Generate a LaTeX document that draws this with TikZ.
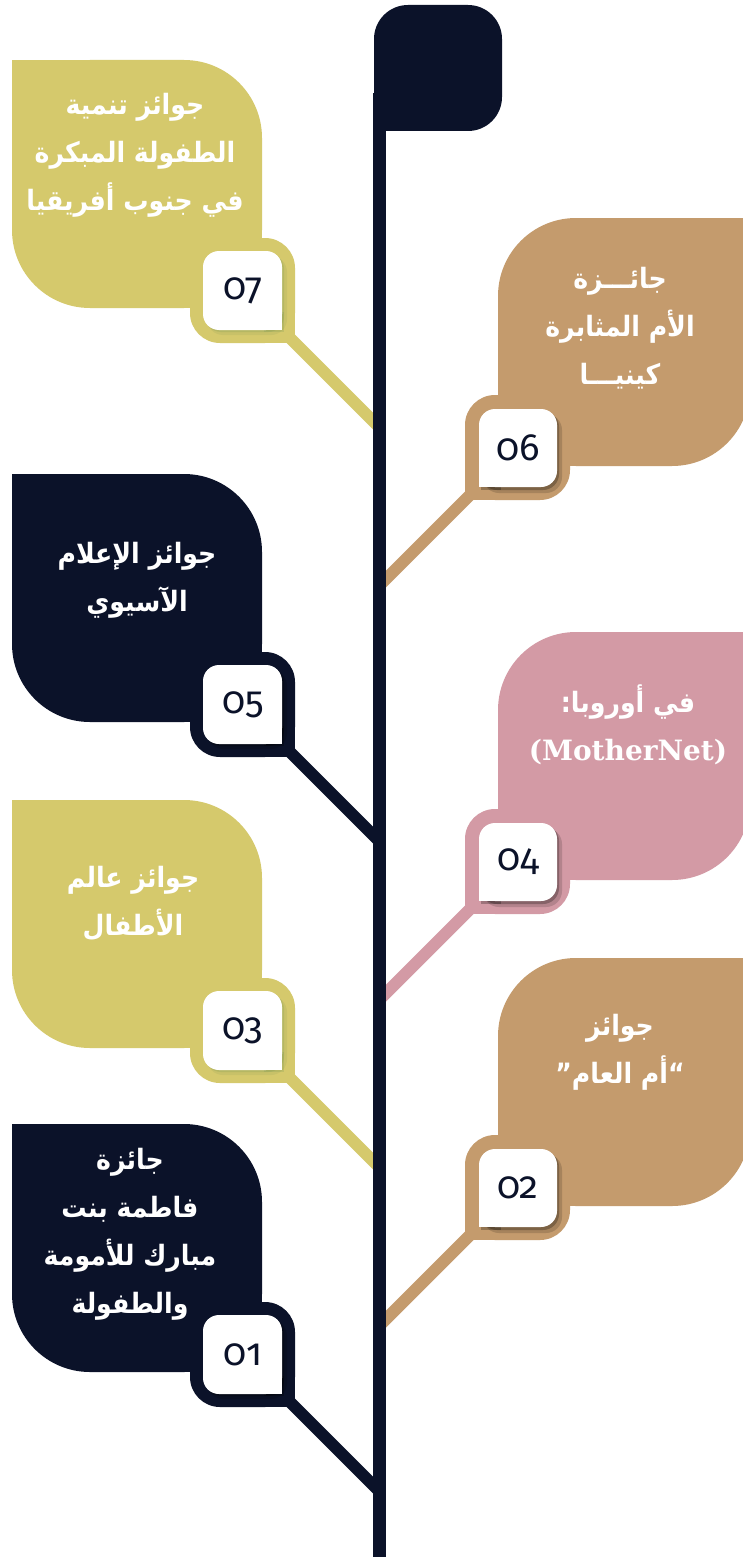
\documentclass[tikz,border=0pt]{standalone}
\usepackage{fontspec}
\TeXXeTstate=1
\newfontfamily\arabicfont[Script=Arabic,FakeStretch=0.9]{DejaVu Sans}
\newfontfamily\numfont[Numbers=OldStyle]{Fira Sans}
\newfontfamily\latinserif{DejaVu Serif}
\definecolor{navy}{HTML}{0B1229}
\definecolor{olive}{HTML}{D5C96C}
\definecolor{tan}{HTML}{C49B6D}
\definecolor{rose}{HTML}{D39AA5}
\definecolor{oliveshadow}{HTML}{7E9A55}
\tikzset{
  lbl/.style={text=white, align=center, font=\arabicfont\bfseries\fontsize{28}{48}\selectfont},
  num/.style={text=navy, font=\numfont\fontsize{38}{38}\selectfont},
}
\newcommand\leftitem[5]{%
\begin{scope}[yshift=-#1pt]
 \fill[#2,rounded corners=78pt] (12,0) rectangle (262,248);
 \fill[#2] (12,0) rectangle (100,88);
 \fill[#2] (180,166) rectangle (262,248);
 \fill[#2,rounded corners=30pt] (190,178) rectangle (295,283);
 \fill[#2] (255,243) rectangle (295,283);
 \coordinate (c#4a) at (290,278);
 \coordinate (c#4b) at (381,369);
 \draw[#2,line width=12pt] (c#4a) -- (c#4b);
 \fill[#5,opacity=.15,rounded corners=16pt] (207,196) rectangle (287,275);
 \fill[#5,opacity=.25,rounded corners=16pt] (205,193) rectangle (284,272);
 \fill[#5,opacity=.25] (264,252) rectangle (284,272);
 \fill[white,rounded corners=16pt] (203,191) rectangle (282,270);
 \fill[white] (262,250) rectangle (282,270);
 \node[num] (n#4) at (243,231) {#3};
\end{scope}}
\newcommand\rightitem[5]{%
\begin{scope}[yshift=-#1pt]
 \fill[#2,rounded corners=78pt] (498,0) rectangle (750,248);
 \fill[#2] (660,0) rectangle (750,90);
 \fill[#2] (498,170) rectangle (580,248);
 \fill[#2,rounded corners=30pt] (465,177) rectangle (570,282);
 \fill[#2] (465,242) rectangle (505,282);
 \coordinate (c#4a) at (470,277);
 \coordinate (c#4b) at (378,369);
 \draw[#2,line width=12pt] (c#4a) -- (c#4b);
 \fill[#5,opacity=.15,rounded corners=16pt] (483,196) rectangle (562,275);
 \fill[#5,opacity=.25,rounded corners=16pt] (481,193) rectangle (559,272);
 \fill[#5,opacity=.25] (481,252) rectangle (501,272);
 \fill[white,rounded corners=16pt] (479,191) rectangle (557,269);
 \fill[white] (479,249) rectangle (499,269);
 \node[num] (n#4) at (518,230) {#3};
\end{scope}}
\begin{document}
\begin{tikzpicture}[x=1pt,y=-1pt]
\useasboundingbox (0,0) rectangle (743,1557);
\fill[white] (0,0) rectangle (743,1557);
\leftitem{60}{olive}{07}{7}{oliveshadow}
\leftitem{474}{navy}{05}{5}{black}
\leftitem{800}{olive}{03}{3}{oliveshadow}
\leftitem{1124}{navy}{01}{1}{black}
\rightitem{218}{tan}{06}{6}{black}
\rightitem{632}{rose}{04}{4}{black}
\rightitem{958}{tan}{02}{2}{black}
% pole and flag
\fill[navy,rounded corners=34pt] (374,5) rectangle (502,131);
\fill[navy] (374,90) rectangle (420,131);
\fill[navy] (373,93) rectangle (386,1557);
% labels
\node[lbl] (t7) at (135,155) {\beginR جوائز تنمية\endR\\\beginR الطفولة المبكرة\endR\\\beginR في جنوب أفريقيا\endR};
\node[lbl] (t6) at (620,328) {\beginR جائـــزة\endR\\\beginR الأم المثابرة\endR\\\beginR كينيـــا\endR};
\node[lbl] (t5) at (137,580) {\beginR جوائز الإعلام\endR\\\beginR الآسيوي\endR};
\node[lbl] (t4) at (628,725) {\beginR في أوروبا:\endR\\{\latinserif\bfseries\fontsize{28}{48}\selectfont (MotherNet)}};
\node[lbl] (t3) at (133,903) {\beginR جوائز عالم\endR\\\beginR الأطفال\endR};
\node[lbl] (t2) at (620,1052) {\beginR جوائز\endR\\\beginR “أم العام”\endR};
\node[lbl] (t1) at (130,1234) {\beginR جائزة\endR\\\beginR فاطمة بنت\endR\\\beginR مبارك للأمومة\endR\\\beginR والطفولة\endR};
\end{tikzpicture}
\end{document}
